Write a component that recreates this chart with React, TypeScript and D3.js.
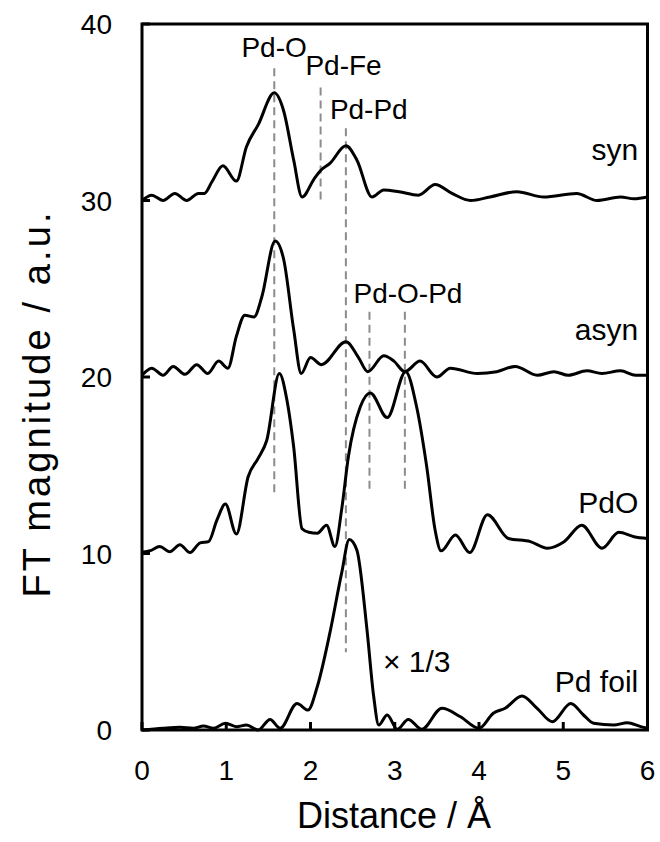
import React from "react";
import * as d3 from "d3";

// FT magnitude curves (x in Å, y in a.u., offsets included)
const synX = [0, 0.115, 0.25, 0.39, 0.53, 0.67, 0.74, 0.83, 0.96, 1.12, 1.24, 1.38, 1.57, 1.68, 1.8, 1.9, 2.04, 2.12, 2.23, 2.42, 2.55, 2.73, 2.87, 3.05, 3.28, 3.48, 3.68, 3.9, 4.13, 4.45, 4.77, 5.16, 5.4, 5.68, 5.84, 6.0];
const synY = [30.0, 30.3, 30.0, 30.4, 30.0, 30.4, 30.4, 31.06, 31.97, 31.1, 33.05, 34.3, 36.1, 35.1, 32.3, 30.2, 31.2, 31.7, 32.1, 33.1, 32.3, 30.2, 30.6, 30.5, 30.3, 30.9, 30.4, 30.0, 30.2, 30.5, 30.2, 30.4, 30.0, 30.2, 30.1, 30.2];

const asynX = [0, 0.115, 0.25, 0.37, 0.51, 0.65, 0.78, 0.91, 1.02, 1.12, 1.22, 1.33, 1.42, 1.58, 1.68, 1.8, 1.89, 2.0, 2.13, 2.42, 2.57, 2.68, 2.87, 2.99, 3.12, 3.3, 3.5, 3.66, 3.98, 4.21, 4.43, 4.69, 4.89, 5.06, 5.28, 5.46, 5.68, 5.86, 6.0];
const asynY = [20.1, 20.5, 20.1, 20.6, 20.15, 20.7, 20.2, 20.9, 20.5, 22.3, 23.5, 23.4, 24.5, 27.7, 26.7, 22.7, 20.2, 21.1, 20.7, 22.0, 21.1, 20.3, 21.2, 20.9, 20.3, 20.9, 20.0, 20.5, 20.2, 20.3, 20.6, 20.1, 20.3, 20.1, 20.35, 20.2, 20.35, 20.1, 20.1];

const pdoX = [0, 0.1, 0.21, 0.33, 0.45, 0.57, 0.69, 0.79, 0.89, 0.99, 1.12, 1.26, 1.38, 1.48, 1.63, 1.72, 1.8, 1.9, 1.98, 2.08, 2.19, 2.29, 2.37, 2.45, 2.59, 2.71, 2.91, 3.13, 3.26, 3.38, 3.48, 3.55, 3.72, 3.89, 4.1, 4.35, 4.61, 4.81, 5.01, 5.22, 5.46, 5.66, 5.84, 6.0];
const pdoY = [10.07, 10.16, 10.4, 10.1, 10.5, 10.05, 10.6, 10.67, 11.9, 12.8, 11.1, 14.35, 15.4, 16.4, 20.2, 18.7, 16.05, 11.4, 11.2, 11.15, 11.6, 10.4, 12.5, 15.5, 18.3, 19.1, 17.7, 20.3, 18.3, 14.9, 11.3, 10.15, 11.05, 10.05, 12.2, 10.85, 10.67, 10.3, 10.67, 11.6, 10.3, 11.2, 10.95, 10.85];

const foilX = [0, 0.25, 0.45, 0.61, 0.73, 0.85, 0.99, 1.12, 1.24, 1.38, 1.52, 1.64, 1.84, 1.97, 2.08, 2.23, 2.37, 2.46, 2.55, 2.67, 2.75, 2.81, 2.91, 3.03, 3.16, 3.32, 3.56, 3.78, 4.0, 4.17, 4.31, 4.51, 4.69, 4.87, 5.09, 5.24, 5.36, 5.6, 5.76, 5.92, 6.0];
const foilY = [0, 0.1, 0.15, 0.1, 0.23, 0.1, 0.38, 0.19, 0.28, 0, 0.6, 0.1, 1.5, 1.13, 2.45, 5.5, 8.9, 10.8, 10.2, 5.7, 1.9, 0.28, 0.85, 0.04, 0.6, 0.04, 1.23, 0.75, 0.1, 0.95, 1.23, 1.93, 1.23, 0.47, 1.5, 0.85, 0.38, 0.28, 0.41, 0.19, 0.1];

// reference lines: position, top, bottom
const refX = [1.57, 2.12, 2.42, 2.7, 3.12];
const refTop = [37.5, 36.4, 34.1, 23.7, 23.7];
const refBottom = [13.4, 29.9, 4.4, 13.4, 13.4];

const peakLabels = ["Pd-O", "Pd-Fe", "Pd-Pd", "Pd-O-Pd"];
const peakLabelX = [1.18, 1.94, 2.23, 2.51];
const peakLabelY = [38.15, 37.1, 34.6, 24.2];

const seriesNames = ["syn", "asyn", "PdO", "Pd foil"];
const seriesLabelY = [32.3, 22.1, 12.3, 2.15];

const xTicks = [0, 1, 2, 3, 4, 5, 6];
const yTicks = [0, 10, 20, 30, 40];

const font = "'Liberation Sans', Arial, sans-serif";

export default function App() {
  const left = 142, right = 647.5, top = 24, bottom = 730;
  const x = d3.scaleLinear().domain([0, 6]).range([left, right]);
  const y = d3.scaleLinear().domain([0, 40]).range([bottom, top]);

  const line = d3
    .line<[number, number]>()
    .x((d) => x(d[0]))
    .y((d) => y(d[1]))
    .curve(d3.curveMonotoneX);

  const series = [
    d3.zip(synX, synY),
    d3.zip(asynX, asynY),
    d3.zip(pdoX, pdoY),
    d3.zip(foilX, foilY),
  ] as [number, number][][];

  return (
    <svg width={660} height={842} style={{ position: "absolute", left: 0, top: 0, background: "#fff" }} fontFamily={font}>
      {/* reference dashed lines */}
      {refX.map((v, i) => (
        <line key={"r" + i} x1={x(v)} x2={x(v)} y1={y(refTop[i])} y2={y(refBottom[i])}
          stroke="#8c8c8c" strokeWidth={2} strokeDasharray="8,5" />
      ))}

      {/* curves */}
      {series.map((s, i) => (
        <path key={"s" + i} d={line(s) || ""} fill="none" stroke="#000" strokeWidth={3} strokeLinejoin="round" />
      ))}

      {/* frame */}
      <rect x={left} y={top} width={right - left} height={bottom - top} fill="none" stroke="#000" strokeWidth={3} />

      {/* ticks */}
      {xTicks.map((t) => (
        <g key={"xt" + t}>
          <line x1={x(t)} x2={x(t)} y1={bottom} y2={bottom - 8} stroke="#000" strokeWidth={3} />
          <text x={x(t)} y={780} fontSize={28} textAnchor="middle">{t}</text>
        </g>
      ))}
      {yTicks.map((t) => (
        <g key={"yt" + t}>
          <line x1={left} x2={left + 8} y1={y(t)} y2={y(t)} stroke="#000" strokeWidth={3} />
          <text x={112} y={y(t) + 10} fontSize={28} textAnchor="end">{t}</text>
        </g>
      ))}

      {/* peak labels */}
      {peakLabels.map((l, i) => (
        <text key={"p" + i} x={x(peakLabelX[i])} y={y(peakLabelY[i])} fontSize={28}>{l}</text>
      ))}

      {/* series names */}
      {seriesNames.map((n, i) => (
        <text key={"n" + i} x={x(5.89)} y={y(seriesLabelY[i])} fontSize={30} textAnchor="end">{n}</text>
      ))}
      <text x={x(2.86)} y={y(3.3)} fontSize={30}>× 1/3</text>

      {/* axis titles */}
      <text x={394} y={828} fontSize={36} textAnchor="middle">Distance / Å</text>
      <text transform="translate(50,405) rotate(-90)" fontSize={38} textAnchor="middle"
        textLength={385} lengthAdjust="spacing">FT magnitude / a.u.</text>
    </svg>
  );
}
